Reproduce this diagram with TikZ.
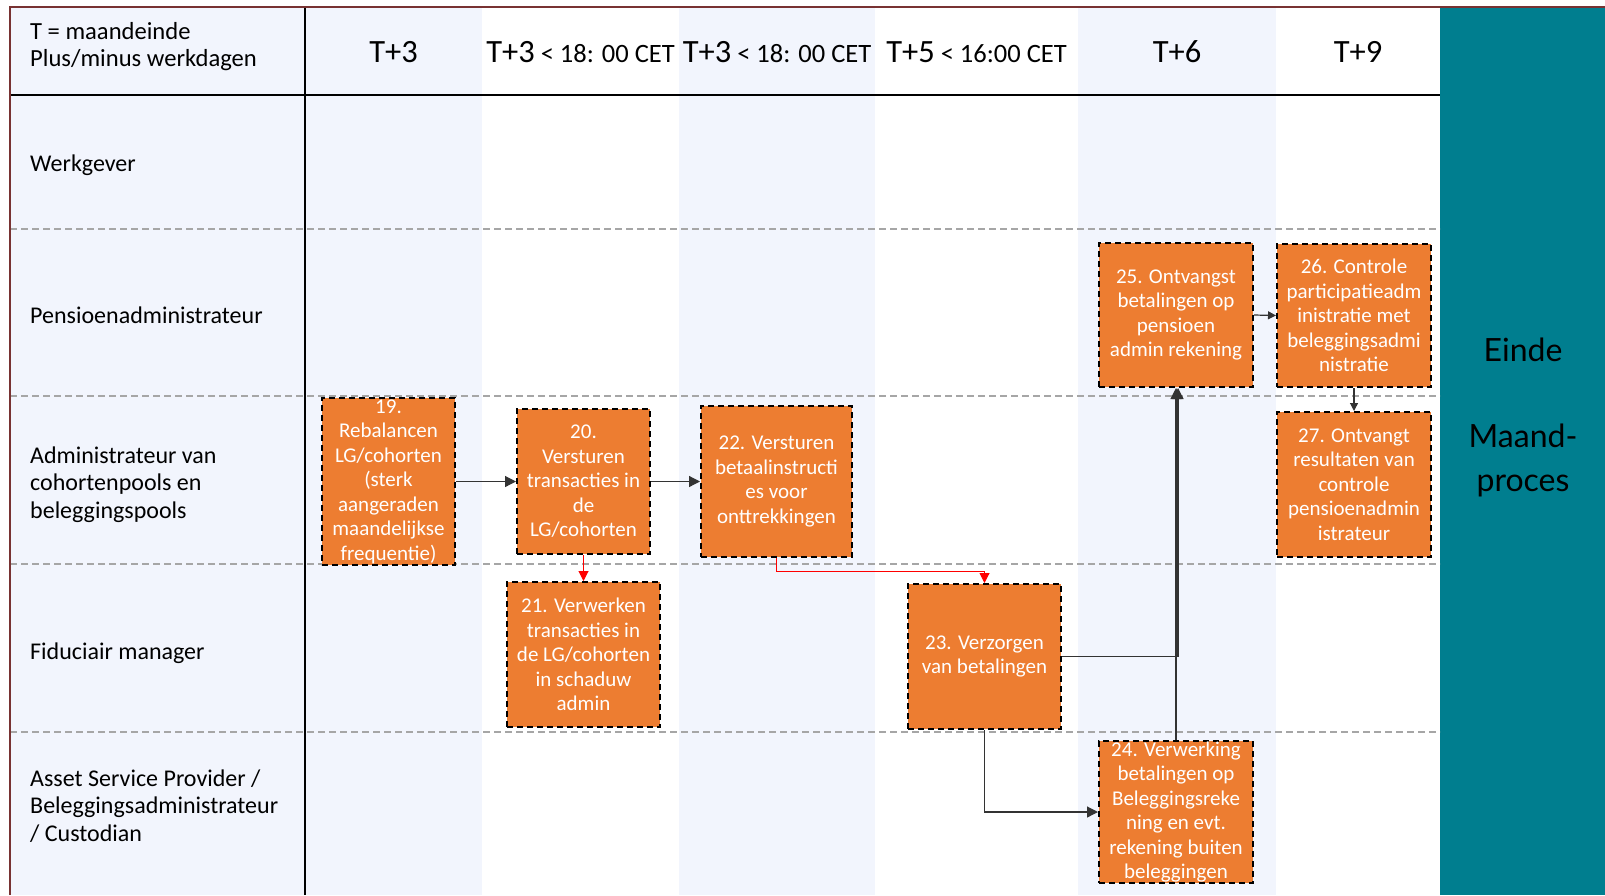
\documentclass[tikz,border=0pt]{standalone}
\usepackage{fontspec}
\setmainfont{Carlito}
\newfontfamily\latofont{Lato}
\usepackage{tikz}
\usetikzlibrary{arrows.meta, positioning}
\definecolor{laneblue}{RGB}{242,245,253}
\definecolor{taskorange}{RGB}{237,125,49}
\definecolor{endteal}{RGB}{0,126,143}
\definecolor{borderred}{RGB}{120,50,50}
\newcommand{\tday}[1]{{\fontsize{32.5}{35}\selectfont #1}}

\begin{document}
\begin{tikzpicture}[
    x=1pt, y=-1pt,
    task/.style={rectangle, draw=black, line width=2pt, dash pattern=on 6pt off 4pt, fill=taskorange, text=white, align=center, inner xsep=2pt, inner ysep=0pt, font=\fontsize{21}{24.5}\selectfont},
    lane/.style={anchor=west, align=left, inner xsep=0pt, font=\fontsize{24}{27.5}\selectfont},
    colhead/.style={font=\fontsize{26.5}{29}\selectfont},
    sep/.style={draw=black!35, line width=1.5pt, dash pattern=on 7pt off 4pt},
    arrow/.style={-{Triangle[length=11pt, width=11pt]}, line width=1.2pt, draw=black!80},
    redarrow/.style={-{Triangle[length=10pt, width=10pt]}, line width=1pt, draw=red},
]
    \useasboundingbox (0,0) rectangle (1605,895);

    % Background bands
    \fill[laneblue] (10,7) rectangle (305,895);
    \foreach \xa/\xb in {305/482, 679/875, 1078/1276} {
        \fill[laneblue] (\xa,7) rectangle (\xb,895);
    }
    \fill[endteal] (1440,7) rectangle (1605,895);

    % Grid
    \foreach \y in {229, 396, 564, 732} {
        \draw[sep] (10,\y) -- (1440,\y);
    }
    \draw[line width=2.5pt] (10,95) -- (1440,95);
    \draw[line width=2.5pt] (305,7) -- (305,895);
    \draw[borderred, line width=1.5pt] (10,895) -- (10,7) -- (1605,7);

    % Column headers
    \node[lane, font=\fontsize{24.6}{27}\selectfont] (hdr) at (30,47) {T = maandeinde\\Plus/minus werkdagen};
    \foreach \x/\name/\txt in {393.5/h1/{\tday{T+3}}, 580.5/h2/{\tday{T+3} < 18: 00 CET}, 777/h3/{\tday{T+3} < 18: 00 CET}, 976.5/h4/{\tday{T+5} < 16:00 CET}, 1177/h5/{\tday{T+6}}, 1358/h6/{\tday{T+9}}} {
        \node[colhead] (\name) at (\x,52) {\txt};
    }

    % Lanes
    \node[lane] (werkgever) at (30,165) {Werkgever};
    \node[lane] (pensioen) at (30,315.5) {Pensioenadministrateur};
    \node[lane] (admin) at (30,484.5) {Administrateur van\\cohortenpools en\\beleggingspools};
    \node[lane] (fiduciair) at (30,653) {Fiduciair manager};
    \node[lane] (asp) at (30,806) {Asset Service Provider /\\Beleggingsadministrateur\\/ Custodian};

    % End of process
    \node[font=\latofont\fontsize{32}{44}\selectfont, align=center] (einde) at (1523,417) {Einde\\[42pt]Maand-\\proces};

    % Tasks
    \node[task, minimum width=133pt, minimum height=167pt] (t19) at (388.5,481.5) {19.\\Rebalancen\\LG/cohorten\\(sterk\\aangeraden\\maandelijkse\\frequentie)};
    \node[task, minimum width=133pt, minimum height=145pt] (t20) at (583.5,481.5) {20.\\Versturen\\transacties in\\de\\LG/cohorten};
    \node[task, minimum width=153pt, minimum height=145pt] (t21) at (583.5,654.5) {21. Verwerken\\transacties in\\de LG/cohorten\\in schaduw\\admin};
    \node[task, minimum width=151pt, minimum height=151pt] (t22) at (776.5,481.5) {22. Versturen\\betaalinstructi\\es voor\\onttrekkingen};
    \node[task, minimum width=153pt, minimum height=145pt] (t23) at (984.5,656.5) {23. Verzorgen\\van betalingen};
    \node[task, minimum width=154pt, minimum height=142pt] (t24) at (1176,812) {24. Verwerking\\betalingen op\\Beleggingsreke\\ning en evt.\\rekening buiten\\beleggingen};
    \node[task, minimum width=154pt, minimum height=144pt] (t25) at (1176,315) {25. Ontvangst\\betalingen op\\pensioen\\admin rekening};
    \node[task, minimum width=154pt, minimum height=143pt] (t26) at (1354,315.5) {26. Controle\\participatieadm\\inistratie met\\beleggingsadmi\\nistratie};
    \node[task, minimum width=154pt, minimum height=145pt] (t27) at (1354,484.5) {27. Ontvangt\\resultaten van\\controle\\pensioenadmin\\istrateur};

    % Connections
    \draw[arrow] (t19.east) -- (t20.west);
    \draw[arrow] (t20.east) -- (t22.west);
    \draw[redarrow] (t20.south) -- (t21.north);
    \draw[redarrow] (t22.south) -- ++(0,13) -| (t23.north);
    \draw[arrow] (t23.east) -| ([xshift=2pt]t25.south);
    \draw[arrow] (t24.north) -- (t25.south);
    \draw[arrow] (t23.south) |- (t24.west);
    \draw[arrow, -{Triangle[length=8pt, width=8pt]}] (t25.east) -- (t26.west);
    \draw[arrow, -{Triangle[length=8pt, width=8pt]}] (t26.south) -- (t27.north);

\end{tikzpicture}
\end{document}
